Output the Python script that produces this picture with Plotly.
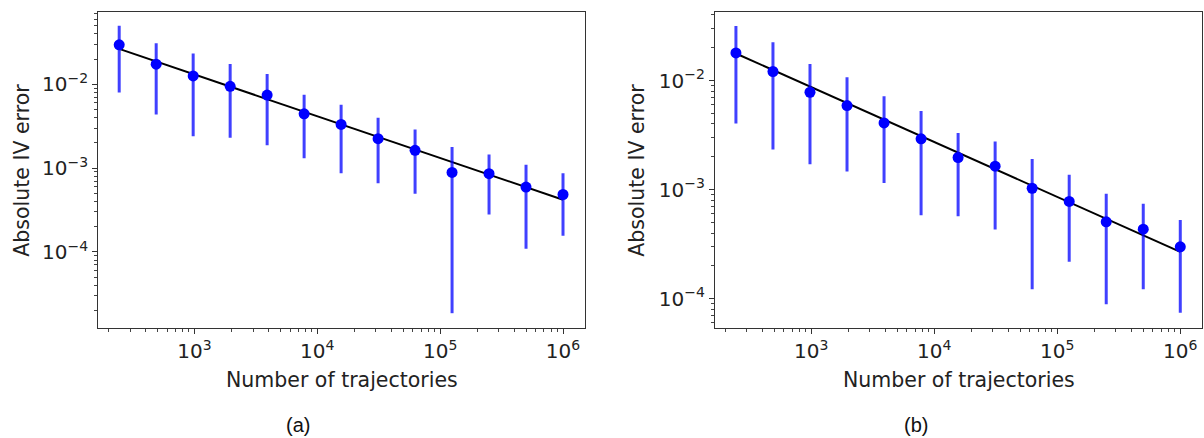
import math
import plotly.graph_objects as go

# ---- data ----
n_traj = [244.140625, 488.28125, 976.5625, 1953.125, 3906.25, 7812.5, 15625,
          31250, 62500, 125000, 250000, 500000, 1000000]

err_a = [0.0296, 0.0174, 0.0126, 0.00946, 0.00745, 0.00445, 0.00332, 0.00225,
         0.00163, 0.00089, 0.00086, 0.000594, 0.000485]
hi_a = [0.0499, 0.031, 0.0233, 0.0175, 0.0133, 0.0075, 0.0057, 0.00398,
        0.00289, 0.00179, 0.00146, 0.0011, 0.000867]
lo_a = [0.0080, 0.00437, 0.0024, 0.0023, 0.00188, 0.00131, 0.00087, 0.00066,
        0.000495, 1.86e-5, 0.00028, 0.000109, 0.000156]
fit_a = [0.0265, 0.00042]

err_b = [0.0179, 0.0121, 0.00781, 0.0059, 0.00409, 0.00292, 0.00197, 0.00164,
         0.00103, 0.00078, 0.000507, 0.000434, 0.000299]
hi_b = [0.0316, 0.0224, 0.0142, 0.0107, 0.00718, 0.00527, 0.00331, 0.00276,
        0.00191, 0.00137, 0.000916, 0.000741, 0.000526]
lo_b = [0.00404, 0.00233, 0.00171, 0.00147, 0.00115, 0.000583, 0.000569,
        0.000432, 0.000122, 0.000218, 8.9e-5, 0.000122, 7.45e-5]
fit_b = [0.0177, 0.000269]

x_ticks = [1e3, 1e4, 1e5, 1e6]
x_ticktext = ["10<sup>3</sup>", "10<sup>4</sup>", "10<sup>5</sup>", "10<sup>6</sup>"]
y_ticks = [1e-4, 1e-3, 1e-2]
y_ticktext = ["10<sup>\u22124</sup>", "10<sup>\u22123</sup>", "10<sup>\u22122</sup>"]
x_title = "Number of trajectories"
y_title = "Absolute IV error"
captions = ["(a)", "(b)"]

# ---- figure ----
W, H = 1204, 438
FONT = "DejaVu Sans"
BLUE = "#0000ff"
EBLUE = "rgba(0,0,255,0.75)"
TXT = "#222222"

minor_vals = [k * 10.0 ** e for e in range(-6, 8) for k in range(2, 10)]

fig = go.Figure()

panels = [
    dict(err=err_a, hi=hi_a, lo=lo_a, fit=fit_a, xa="x", ya="y"),
    dict(err=err_b, hi=hi_b, lo=lo_b, fit=fit_b, xa="x2", ya="y2"),
]
for p in panels:
    fig.add_trace(go.Scatter(
        x=[n_traj[0], n_traj[-1]], y=p["fit"], mode="lines",
        line=dict(color="black", width=2), xaxis=p["xa"], yaxis=p["ya"],
        showlegend=False, hoverinfo="skip"))
    plus = [h - v for h, v in zip(p["hi"], p["err"])]
    minus = [v - l for v, l in zip(p["err"], p["lo"])]
    fig.add_trace(go.Scatter(
        x=n_traj, y=p["err"], mode="markers",
        marker=dict(color=BLUE, size=11, line=dict(width=0)),
        error_y=dict(type="data", symmetric=False, array=plus, arrayminus=minus,
                     color=EBLUE, thickness=3, width=0),
        xaxis=p["xa"], yaxis=p["ya"], showlegend=False))

def px_x(v):
    return v / W

def px_y(v):
    return 1 - v / H

axis_common = dict(
    type="log", showgrid=False, zeroline=False, showline=True, mirror=True,
    linecolor="#333333", linewidth=1.2, ticks="outside", ticklen=5,
    tickwidth=1, tickcolor="#333333",
    tickfont=dict(family=FONT, size=20, color=TXT),
)
minor_common = dict(ticks="outside", ticklen=3, tickwidth=0.8,
                    tickcolor="#444444", tickmode="array", tickvals=minor_vals,
                    showgrid=False)

xr = [math.log10(165), math.log10(1.51e6)]

fig.update_layout(
    width=W, height=H, margin=dict(l=0, r=0, t=0, b=0),
    paper_bgcolor="white", plot_bgcolor="white",
    font=dict(family=FONT, color=TXT),
    xaxis=dict(axis_common, domain=[px_x(98.3), px_x(585)], range=xr,
               tickmode="array", tickvals=x_ticks, ticktext=x_ticktext,
               minor=minor_common, anchor="y"),
    yaxis=dict(axis_common, domain=[px_y(328), px_y(12)], range=[-4.907, -1.137],
               tickmode="array", tickvals=y_ticks, ticktext=y_ticktext,
               minor=minor_common, anchor="x"),
    xaxis2=dict(axis_common, domain=[px_x(715), px_x(1202.3)], range=xr,
                tickmode="array", tickvals=x_ticks, ticktext=x_ticktext,
                minor=minor_common, anchor="y2"),
    yaxis2=dict(axis_common, domain=[px_y(328), px_y(12)], range=[-4.268, -1.372],
                tickmode="array", tickvals=y_ticks, ticktext=y_ticktext,
                minor=minor_common, anchor="x2"),
)

ann = []
for cx, ytx in [((98.3 + 585) / 2, 21.7), ((715 + 1202.3) / 2, 636.7)]:
    ann.append(dict(text=x_title, x=px_x(cx), y=px_y(380), xref="paper", yref="paper",
                    xanchor="center", yanchor="middle", showarrow=False,
                    font=dict(family=FONT, size=20.5, color=TXT)))
    ann.append(dict(text=y_title, x=px_x(ytx), y=px_y(170), xref="paper", yref="paper",
                    xanchor="center", yanchor="middle", textangle=-90, showarrow=False,
                    font=dict(family=FONT, size=20.5, color=TXT)))
for cap, cx in zip(captions, [298, 916]):
    ann.append(dict(text=cap, x=px_x(cx), y=px_y(425), xref="paper", yref="paper",
                    xanchor="center", yanchor="middle", showarrow=False,
                    font=dict(family="Liberation Sans", size=20, color="#111111")))
fig.update_layout(annotations=ann)

fig.write_html(
    "out.html",
    config={"displayModeBar": False},
    post_script="document.body.style.margin='0';document.body.style.overflow='hidden';",
)
